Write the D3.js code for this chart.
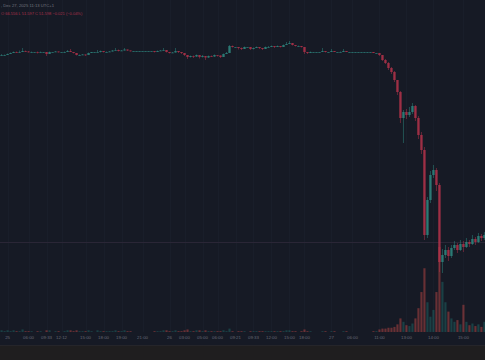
<!DOCTYPE html>
<html>
<head>
  <meta charset="UTF-8">
  <script src="https://d3js.org/d3.v7.min.js"></script>
  <style>
    html, body { margin: 0; padding: 0; background: #161a25; }
    svg { display: block; }
  </style>
</head>
<body>
  <svg></svg>
</body>
<script>
  let width = 485,
    height = 360;

  // candle closes, highs, lows (open = previous close)
  const closes = [
    94.0, 94.0, 94.2, 94.4, 94.6, 94.5, 94.6, 94.8, 94.7, 94.6,
    94.6, 94.6, 94.5, 94.6, 94.6, 94.2, 94.6, 94.6, 94.7, 94.6,
    94.6, 94.6, 94.8, 94.6, 94.4, 94.0, 94.0, 94.1, 94.0, 94.4,
    94.6, 94.6, 94.6, 94.8, 94.6, 94.6, 94.7, 94.9, 95.0, 94.8,
    94.9, 95.1, 94.9, 94.8, 94.8, 94.8, 94.8, 94.8, 94.8, 94.8,
    94.8, 94.6, 94.8, 94.9, 95.0, 94.6, 94.4, 94.5, 94.8, 94.6,
    94.4, 94.0, 93.6, 93.8, 93.7, 94.0, 93.6, 93.8, 93.5, 93.8,
    93.7, 94.0, 93.9, 93.6, 94.2, 94.4, 95.8, 95.6, 95.6, 95.4,
    95.2, 95.6, 95.6, 95.2, 95.4, 95.6, 95.4, 95.2, 95.6, 95.6,
    95.8, 95.6, 95.8, 95.6, 96.0, 96.2, 96.4, 96.0, 95.8, 95.8,
    95.6, 94.6, 94.4, 94.6, 94.6, 94.6, 94.6, 94.8, 94.6, 94.6,
    94.8, 94.6, 94.6, 94.6, 94.8, 94.6, 94.6, 94.6, 94.6, 94.6,
    94.6, 94.6, 94.6, 94.6, 94.4, 94.4, 94.0, 93.0, 92.4, 91.4,
    90.6, 89.0, 86.6, 81.4, 82.6, 82.0, 82.6, 83.8, 81.4, 78.0,
    75.0, 58.0, 65.0, 70.0, 71.0, 68.0, 52.6, 54.0, 55.0, 53.8,
    55.4, 56.0, 55.0, 56.2, 55.6, 56.6, 56.2, 57.2, 56.6, 57.8,
    57.4, 58.0
  ];
  const highs = [
    94.2, 94.1, 94.3, 94.5, 94.7, 94.7, 94.9, 95.4, 94.9, 94.8,
    94.7, 94.6, 94.7, 94.7, 94.6, 94.6, 94.7, 94.6, 94.8, 94.7,
    94.6, 94.7, 95.0, 95.2, 94.6, 94.4, 94.1, 94.2, 94.1, 94.5,
    94.6, 94.6, 95.0, 94.9, 94.8, 94.7, 94.8, 95.0, 95.4, 95.1,
    95.0, 95.4, 95.1, 94.9, 94.8, 94.8, 94.8, 94.8, 94.8, 94.8,
    94.8, 94.8, 94.9, 95.0, 95.4, 95.0, 94.6, 94.6, 95.4, 94.8,
    94.6, 94.4, 94.0, 93.9, 93.9, 94.1, 94.0, 94.0, 93.8, 93.9,
    93.9, 94.1, 94.0, 93.9, 94.3, 94.6, 96.0, 95.9, 95.6, 95.6,
    95.5, 95.7, 95.6, 95.6, 95.5, 95.7, 95.6, 95.4, 95.7, 95.8,
    95.9, 95.8, 95.9, 95.8, 96.1, 96.6, 96.8, 96.4, 96.0, 95.9,
    95.8, 95.6, 94.6, 94.7, 94.6, 94.6, 94.6, 95.4, 94.8, 94.6,
    95.2, 94.8, 94.6, 94.7, 95.2, 94.8, 94.6, 94.6, 94.6, 94.6,
    94.6, 94.6, 94.6, 94.6, 94.6, 94.4, 94.4, 94.0, 93.2, 92.6,
    91.6, 90.8, 89.0, 86.8, 83.0, 83.2, 83.6, 84.4, 84.0, 81.8,
    78.6, 75.6, 65.6, 70.8, 72.0, 71.4, 68.4, 55.2, 56.0, 55.6,
    56.0, 56.8, 56.4, 57.0, 56.8, 57.4, 57.0, 58.0, 57.6, 58.4,
    58.2, 58.6
  ];
  const lows = [
    93.9, 93.9, 94.0, 94.2, 94.4, 94.4, 94.5, 94.6, 94.6, 94.5,
    94.5, 94.6, 94.3, 94.5, 94.6, 93.8, 94.2, 94.6, 94.6, 94.5,
    94.6, 94.5, 94.6, 94.6, 94.3, 93.9, 93.9, 94.0, 93.8, 94.0,
    94.4, 94.6, 94.6, 94.5, 94.5, 94.6, 94.6, 94.7, 94.9, 94.7,
    94.8, 94.9, 94.8, 94.7, 94.8, 94.8, 94.8, 94.8, 94.8, 94.8,
    94.8, 94.5, 94.6, 94.8, 94.9, 94.5, 94.3, 94.4, 94.5, 94.4,
    94.2, 93.8, 93.2, 93.5, 93.4, 93.6, 93.3, 93.5, 93.0, 93.4,
    93.6, 93.6, 93.7, 93.4, 93.6, 94.2, 94.4, 95.5, 95.6, 95.1,
    95.0, 95.2, 95.6, 95.0, 95.1, 95.4, 95.2, 95.0, 95.2, 95.5,
    95.6, 95.4, 95.6, 95.5, 95.6, 96.0, 96.2, 95.9, 95.7, 95.7,
    95.5, 94.2, 94.2, 94.4, 94.6, 94.6, 94.6, 94.6, 94.5, 94.6,
    94.6, 94.6, 94.6, 94.6, 94.6, 94.6, 94.6, 94.6, 94.6, 94.6,
    94.6, 94.6, 94.6, 94.6, 94.4, 94.4, 93.8, 92.8, 92.2, 91.0,
    90.2, 88.6, 86.0, 80.4, 76.4, 81.2, 81.6, 82.2, 80.8, 77.2,
    74.2, 57.0, 57.4, 64.4, 69.4, 66.8, 50.6, 50.4, 53.4, 52.8,
    53.4, 55.0, 54.4, 54.8, 54.6, 55.4, 55.6, 56.0, 56.0, 56.4,
    56.8, 57.0
  ];
  const volumes = [
    2, 1, 2, 1, 2, 1, 1, 3, 1, 1,
    1, 0, 1, 1, 0, 2, 2, 0, 1, 1,
    0, 1, 2, 2, 1, 2, 1, 1, 1, 2,
    1, 0, 2, 1, 1, 1, 1, 1, 2, 1,
    1, 2, 1, 1, 0, 0, 0, 0, 0, 0,
    0, 1, 1, 1, 2, 2, 1, 1, 2, 1,
    1, 2, 3, 1, 1, 2, 2, 1, 2, 1,
    1, 1, 1, 1, 2, 1, 4, 1, 0, 1,
    1, 1, 0, 1, 1, 1, 1, 1, 1, 1,
    1, 1, 1, 1, 1, 2, 2, 1, 1, 0,
    1, 3, 1, 1, 0, 0, 0, 1, 1, 0,
    1, 1, 0, 0, 1, 1, 0, 0, 0, 0,
    0, 0, 0, 0, 1, 1, 3, 4, 4, 5,
    5, 6, 9, 16, 12, 8, 7, 10, 16, 28,
    47, 75, 35, 18, 26, 47, 100, 59, 35, 24,
    16, 12, 14, 9, 32, 12, 8, 10, 7, 9,
    6, 12
  ];

  // time axis labels at candle indices
  const tickIdx = [2, 9, 15, 20, 28, 34, 40, 47, 56, 61, 67, 72, 78, 84, 90, 96, 101, 110, 117, 126, 135, 144, 154];
  const tickLabels = ["25", "06:00", "09:33", "12:12", "15:00", "18:00", "19:00", "21:00", "26", "03:00", "05:00", "06:00",
    "09:21", "09:33", "12:00", "15:00", "18:00", "27", "06:00", "11:00", "13:00", "14:00", "15:00"];

  const upColor = "#2f8a82",
    downColor = "#b5334b";

  let svg = d3.select("svg")
    .attr("width", width)
    .attr("height", height)
    .style("font-family", "'Liberation Sans', Arial, sans-serif");

  svg.append("rect").attr("width", width).attr("height", 345).attr("fill", "#161a25");
  svg.append("rect").attr("y", 345).attr("width", width).attr("height", 15).attr("fill", "#1f1e1f");
  svg.append("line").attr("x1", 0).attr("x2", width).attr("y1", 345.5).attr("y2", 345.5)
    .attr("stroke", "#25252a");

  let data = closes.map((c, i) => ({
    i: i,
    open: i == 0 ? c : closes[i - 1],
    close: c,
    high: highs[i],
    low: lows[i],
    vol: volumes[i]
  }));

  let x = d3.scaleBand()
    .domain(data.map(d => d.i))
    .range([0, data.length * 3])
    .paddingInner(0.55)
    .paddingOuter(0.3);

  let y = d3.scaleLinear().domain([45, 105]).range([300, 0]);
  let yVol = d3.scaleLinear().domain([0, 100]).range([332, 247]);

  // faint vertical grid
  svg.append("g")
    .selectAll("line")
    .data(tickIdx)
    .enter()
    .append("line")
    .attr("x1", d => Math.round(x(d) + x.bandwidth() / 2) + 0.5)
    .attr("x2", d => Math.round(x(d) + x.bandwidth() / 2) + 0.5)
    .attr("y1", 0).attr("y2", 332)
    .attr("stroke", "#191e2a");

  // price line
  svg.append("line")
    .attr("x1", 0).attr("x2", width)
    .attr("y1", 242.5).attr("y2", 242.5)
    .attr("stroke", "#2a2636");

  // volume
  svg.append("g")
    .selectAll("rect")
    .data(data)
    .enter()
    .append("rect")
    .attr("x", d => x(d.i) - 0.4)
    .attr("width", x.bandwidth() + 0.8)
    .attr("y", d => yVol(d.vol))
    .attr("height", d => 332 - yVol(d.vol))
    .attr("fill", d => d.close >= d.open ? "rgba(38,166,154,0.28)" : "rgba(239,83,80,0.38)");

  // candles
  let candle = svg.append("g")
    .selectAll("g")
    .data(data)
    .enter()
    .append("g")
    .attr("opacity", 0.85);

  candle.append("line")
    .attr("x1", d => x(d.i) + x.bandwidth() / 2)
    .attr("x2", d => x(d.i) + x.bandwidth() / 2)
    .attr("y1", d => y(d.high))
    .attr("y2", d => y(d.low))
    .attr("stroke", d => d.close >= d.open ? upColor : downColor)
    .attr("stroke-width", 0.6);

  candle.append("rect")
    .attr("x", d => x(d.i) - 0.5)
    .attr("width", x.bandwidth() + 1)
    .attr("y", d => y(Math.max(d.open, d.close)))
    .attr("height", d => Math.max(0.8, Math.abs(y(d.open) - y(d.close))))
    .attr("fill", d => d.close >= d.open ? upColor : downColor);

  // time axis
  let axis = svg.append("g")
    .attr("transform", "translate(0,334)")
    .call(d3.axisBottom(x)
      .tickValues(tickIdx)
      .tickSize(0)
      .tickFormat(d => tickLabels[tickIdx.indexOf(d)]));
  axis.select(".domain").remove();
  axis.selectAll("text")
    .attr("dy", "0.55em")
    .attr("fill", "#666975")
    .style("font-size", "4.4px");

  // header
  svg.append("text")
    .attr("x", 1).attr("y", 6.5)
    .attr("fill", "#73767f")
    .style("font-size", "4.2px")
    .text(", Dec 27, 2025 11:13 UTC+1");

  svg.append("text")
    .attr("x", 1).attr("y", 14.5)
    .attr("fill", "#a9304a")
    .style("font-size", "4px")
    .text("O 66.556 L 51.597 C 51.598 −0.021 (−0.04%)");
</script>
</html>
